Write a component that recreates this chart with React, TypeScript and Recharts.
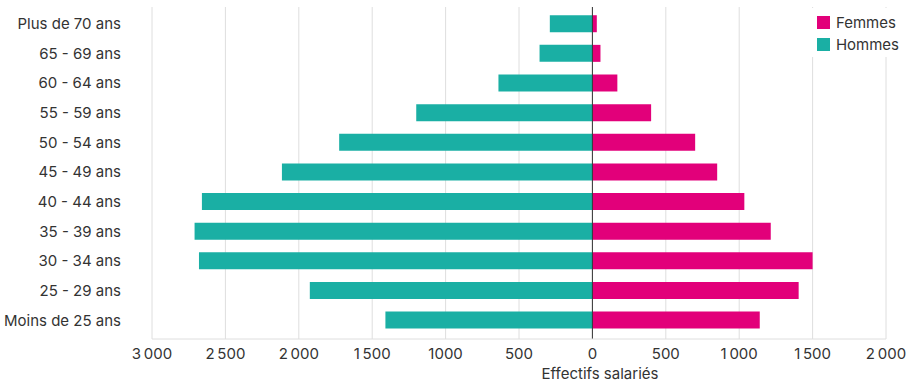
import React from 'react';
import { BarChart, Bar, XAxis, YAxis, CartesianGrid, Legend, ReferenceLine } from 'recharts';

const categories = [
  'Plus de 70 ans', '65 - 69 ans', '60 - 64 ans', '55 - 59 ans', '50 - 54 ans', '45 - 49 ans',
  '40 - 44 ans', '35 - 39 ans', '30 - 34 ans', '25 - 29 ans', 'Moins de 25 ans',
];
const femmes = [30, 55, 170, 400, 700, 850, 1035, 1215, 1500, 1405, 1140];
const hommes = [290, 360, 640, 1200, 1725, 2115, 2660, 2710, 2680, 1925, 1410];

const tickValues = [-3000, -2500, -2000, -1500, -1000, -500, 0, 500, 1000, 1500, 2000];
const tickLabels = ['3\u2009000', '2\u2009500', '2\u2009000', '1\u2009500', '1000', '500', '0', '500', '1\u2009000', '1\u2009500', '2\u2009000'];

const seriesNames = ['Femmes', 'Hommes'];
const seriesColors = ['#E2007A', '#1AAFA4'];

const data = categories.map((c, i) => ({ cat: c, Femmes: femmes[i], Hommes: -hommes[i] }));

const FONT = 'Inter, Roboto, "Noto Sans", sans-serif';
const FS = 15;

const LegendContent = () => (
  <div style={{ background: '#fff', padding: '3px 4px 2px 6px', fontFamily: FONT, fontSize: FS, color: '#333' }}>
    {seriesNames.map((n, i) => (
      <div key={n} style={{ display: 'flex', alignItems: 'center', height: 22 }}>
        <span style={{ display: 'inline-block', width: 13, height: 13, background: seriesColors[i], marginRight: 6 }} />
        <span>{n}</span>
      </div>
    ))}
  </div>
);

export default function App() {
  return (
    <div style={{ position: 'absolute', left: 0, top: 0 }}>
      <BarChart
        width={911}
        height={382}
        data={data}
        layout="vertical"
        stackOffset="sign"
        barCategoryGap="21%"
        margin={{ top: 7, right: 25, bottom: 0, left: 0 }}
        style={{ fontFamily: FONT }}
      >
        <CartesianGrid horizontal={false} stroke="#dedede" />
        <XAxis
          type="number"
          domain={[-3000, 2000]}
          ticks={tickValues}
          height={43}
          tickFormatter={(v: number) => tickLabels[tickValues.indexOf(v)]}
          axisLine={{ stroke: '#dedede' }}
          tickLine={false}
          tickSize={0}
          tickMargin={9}
          tick={{ fill: '#333', fontSize: FS }}
          label={{ value: 'Effectifs salariés', position: 'insideBottom', dx: 81, offset: 3, fill: '#333', fontSize: FS }}
        />
        <YAxis
          type="category"
          dataKey="cat"
          width={152}
          axisLine={false}
          tickLine={false}
          tickSize={0}
          tickMargin={31}
          interval={0}
          padding={{ top: 2, bottom: 4 }}
          tick={{ fill: '#333', fontSize: FS }}
        />
        <Legend
          layout="horizontal"
          verticalAlign="middle"
          align="center"
          content={<LegendContent />}
          wrapperStyle={{ top: 8, right: 8, left: 'auto', bottom: 'auto', width: 'auto' }}
        />
        <Bar dataKey="Femmes" stackId="a" fill={seriesColors[0]} isAnimationActive={false} />
        <Bar dataKey="Hommes" stackId="a" fill={seriesColors[1]} isAnimationActive={false} />
        <ReferenceLine x={0} stroke="#333" strokeWidth={1} />
      </BarChart>
    </div>
  );
}
